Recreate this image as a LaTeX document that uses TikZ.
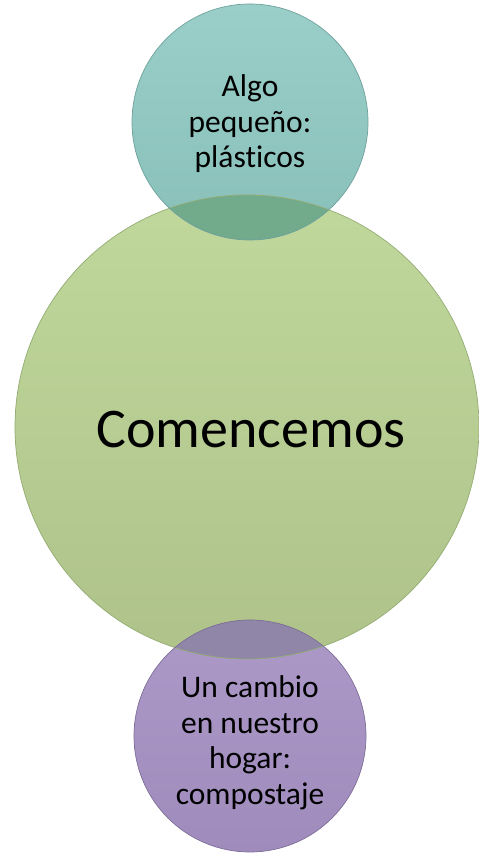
\documentclass[tikz,border=0pt]{standalone}
\usepackage{fontspec}
\setmainfont{Carlito}[Ligatures={NoCommon}]
\definecolor{gTop}{HTML}{C0D89C}
\definecolor{gBot}{HTML}{AEC289}
\definecolor{gEdge}{HTML}{93AC73}
\definecolor{tTop}{HTML}{9ACFC9}
\definecolor{tBot}{HTML}{88BFB8}
\definecolor{tEdge}{HTML}{6FA19C}
\definecolor{pTop}{HTML}{AC99C8}
\definecolor{pBot}{HTML}{A08CBC}
\definecolor{pEdge}{HTML}{7E6E98}
\definecolor{lensT}{HTML}{72AA8C}
\definecolor{lensP}{HTML}{8F86A8}
\tikzset{
  bubble/.style={circle, inner sep=0pt, line width=0.8pt},
  bigtxt/.style={font=\fontsize{56}{67}\selectfont, text=black},
  smalltxt/.style={font=\fontsize{31.5}{35.5}\selectfont, align=center, text=black}
}
\begin{document}
\begin{tikzpicture}[x=1pt,y=1pt]
\useasboundingbox (0,0) rectangle (479,859);
\fill[white] (0,0) rectangle (479,859);
% circles
\node[bubble, minimum size=464pt, top color=gTop, bottom color=gBot] (main) at (247,432) {};
\node[bubble, minimum size=236pt, top color=tTop, bottom color=tBot] (topc) at (250,737) {};
\node[bubble, minimum size=232pt, top color=pTop, bottom color=pBot] (botc) at (250,123) {};
% overlap lenses
\begin{scope}
  \clip (topc.center) circle[radius=118pt];
  \fill[lensT] (main.center) circle[radius=232pt];
\end{scope}
\begin{scope}
  \clip (botc.center) circle[radius=116pt];
  \fill[lensP] (main.center) circle[radius=232pt];
\end{scope}
% outlines
\draw[gEdge, line width=0.7pt] (main.center) circle[radius=232pt];
\draw[tEdge, line width=0.7pt] (topc.center) circle[radius=118pt];
\draw[pEdge, line width=0.7pt] (botc.center) circle[radius=116pt];
% labels
\node[bigtxt] (lmain) at (251,429) {Comencemos};
\node[smalltxt] (ltop) at (250,735) {Algo\\pequeño:\\plásticos};
\node[smalltxt] (lbot) at (250,116) {Un cambio\\en nuestro\\hogar:\\compostaje};
\end{tikzpicture}
\end{document}
